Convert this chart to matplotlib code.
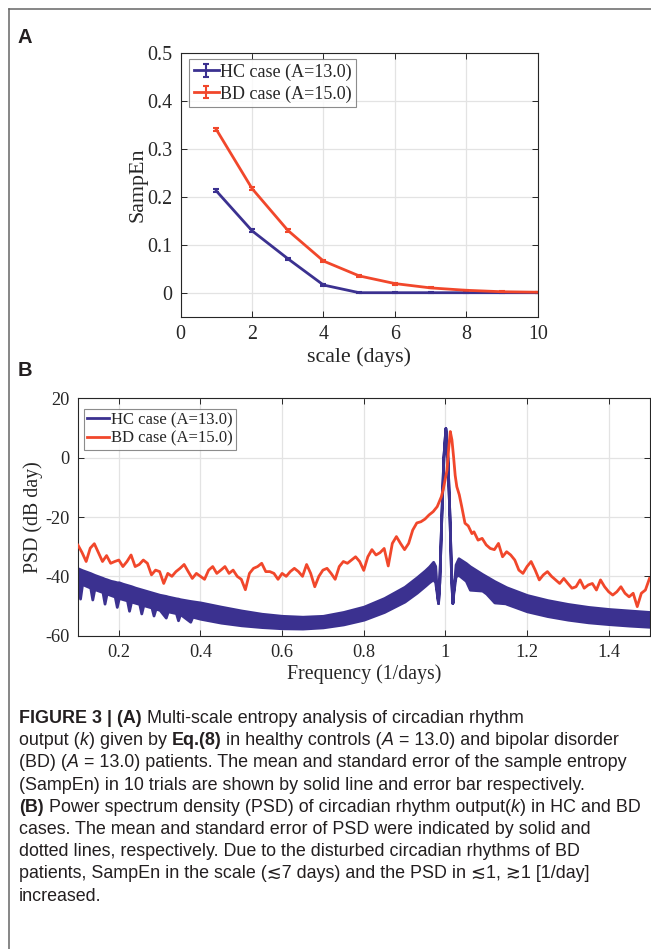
import matplotlib as mpl
mpl.use("Agg")
import matplotlib.pyplot as plt
from matplotlib.lines import Line2D
from matplotlib.legend_handler import HandlerErrorbar
import numpy as np

W, H = 651, 949
plt.rcParams["axes.unicode_minus"] = False
serif = ["Liberation Serif", "DejaVu Serif"]
sans = ["Liberation Sans", "DejaVu Sans"]
hc_color = "#3b3190"
bd_color = "#f1472b"
ax_color = "#262626"
grid_color = "#e3e3e3"

# ---------------- panel A data (SampEn vs scale) ----------------
scales = [1, 2, 3, 4, 5, 6, 7, 8, 9, 10]
hc_sampen = [0.212, 0.129, 0.071, 0.016, 0.0, 0.0, 0.0, 0.0, 0.0, 0.0]
hc_err = [0.003, 0.003, 0.002, 0.002, 0.001, 0.001, 0.001, 0.001, 0.001, 0.001]
bd_sampen = [0.340, 0.217, 0.130, 0.066, 0.035, 0.019, 0.010, 0.005, 0.002, 0.001]
bd_err = [0.004, 0.004, 0.003, 0.003, 0.002, 0.002, 0.001, 0.001, 0.001, 0.001]

# ---------------- panel B data (PSD) ----------------
bd_freq = [0.10, 0.11, 0.12, 0.13, 0.14, 0.15, 0.16, 0.17, 0.18, 0.19,
           0.20, 0.21, 0.22, 0.23, 0.24, 0.25, 0.26, 0.27, 0.28, 0.29,
           0.30, 0.31, 0.32, 0.33, 0.34, 0.35, 0.36, 0.37, 0.38, 0.39,
           0.40, 0.41, 0.42, 0.43, 0.44, 0.45, 0.46, 0.47, 0.48, 0.49,
           0.50, 0.51, 0.52, 0.53, 0.54, 0.55, 0.56, 0.57, 0.58, 0.59,
           0.60, 0.61, 0.62, 0.63, 0.64, 0.65, 0.66, 0.67, 0.68, 0.69,
           0.70, 0.71, 0.72, 0.73, 0.74, 0.75, 0.76, 0.77, 0.78, 0.79,
           0.80, 0.81, 0.82, 0.83, 0.84, 0.85, 0.86, 0.87, 0.88, 0.89,
           0.90, 0.91, 0.92, 0.93, 0.94, 0.95, 0.96, 0.97, 0.98, 0.99,
           0.995, 1.000, 1.004, 1.008, 1.012, 1.016, 1.020, 1.024, 1.028, 1.034,
           1.040, 1.048, 1.056, 1.065, 1.07, 1.08, 1.09, 1.10, 1.11, 1.12,
           1.13, 1.14, 1.15, 1.16, 1.17, 1.18, 1.19, 1.20, 1.21, 1.22,
           1.23, 1.24, 1.25, 1.26, 1.27, 1.28, 1.29, 1.30, 1.31, 1.32,
           1.33, 1.34, 1.35, 1.36, 1.37, 1.38, 1.39, 1.40, 1.41, 1.42,
           1.43, 1.44, 1.45, 1.46, 1.47, 1.48, 1.49, 1.50]
bd_psd = [-29.5, -32.0, -35.0, -30.5, -29.0, -32.0, -35.0, -33.0, -35.6, -35.0,
          -34.5, -36.7, -35.0, -32.8, -36.7, -36.0, -34.5, -35.6, -39.5, -37.9,
          -38.4, -42.4, -39.0, -40.0, -38.4, -37.3, -36.0, -38.4, -40.7, -39.0,
          -40.0, -41.0, -37.9, -36.7, -39.0, -37.9, -36.7, -39.0, -37.9, -40.0,
          -41.0, -44.5, -39.0, -37.3, -36.7, -35.6, -38.4, -38.4, -39.0, -41.0,
          -39.0, -40.0, -38.4, -37.3, -38.4, -40.0, -36.0, -39.0, -43.5, -40.0,
          -37.9, -37.3, -39.0, -41.0, -36.7, -35.0, -35.6, -34.5, -33.4, -35.0,
          -38.0, -33.4, -31.0, -32.8, -32.0, -30.6, -36.5, -28.9, -26.6, -28.9,
          -31.0, -28.9, -24.4, -22.0, -21.6, -20.7, -19.3, -18.2, -16.5, -13.2,
          -10.5, -7.0, -4.2, 3.0, 8.8, 6.0, 0.3, -6.0, -9.8, -12.5,
          -16.5, -22.1, -23.0, -25.6, -25.0, -27.8, -27.2, -29.4, -30.6, -31.0,
          -28.9, -33.4, -31.7, -32.8, -34.5, -37.9, -39.0, -36.7, -35.0, -37.9,
          -41.2, -39.5, -38.4, -40.0, -41.2, -42.4, -40.7, -42.4, -44.0, -43.5,
          -41.2, -44.0, -42.9, -42.4, -44.6, -41.2, -43.5, -45.2, -46.3, -45.2,
          -43.5, -45.7, -46.9, -45.7, -50.2, -45.7, -44.6, -40.7]

# HC spectrum is a dense oscillating band: upper / lower envelope
hc_freq = [0.100, 0.105, 0.110, 0.120, 0.130, 0.135, 0.140, 0.150, 0.160, 0.165,
           0.170, 0.180, 0.190, 0.195, 0.200, 0.210, 0.220, 0.225, 0.230, 0.240,
           0.250, 0.255, 0.260, 0.270, 0.280, 0.285, 0.290, 0.300, 0.315, 0.320,
           0.340, 0.345, 0.350, 0.375, 0.380, 0.400, 0.450, 0.500, 0.550, 0.600,
           0.650, 0.700, 0.750, 0.800, 0.850, 0.900, 0.930, 0.950, 0.960, 0.970,
           0.975, 0.979, 0.982, 0.985, 0.990, 0.995, 1.000, 1.005, 1.010, 1.014,
           1.017, 1.020, 1.025, 1.032, 1.050, 1.060, 1.090, 1.100, 1.120, 1.147,
           1.150, 1.200, 1.250, 1.300, 1.350, 1.400, 1.450, 1.500]
hc_upper = [-37.3, -37.6, -37.9, -38.4, -38.9, -39.2, -39.5, -40.0, -40.5, -40.8,
            -41.0, -41.5, -41.8, -42.0, -42.0, -42.5, -42.9, -43.1, -43.3, -43.8,
            -44.2, -44.4, -44.6, -45.0, -45.4, -45.6, -45.8, -46.2, -46.6, -46.8,
            -47.4, -47.5, -47.7, -48.3, -48.4, -48.8, -50.2, -51.5, -52.6, -53.3,
            -53.6, -53.3, -52.0, -50.2, -47.3, -43.5, -40.3, -38.0, -36.7, -35.1,
            -36.5, -45.0, -49.0, -42.0, -20.0, 0.0, 10.0, 0.0, -20.0, -40.0,
            -49.0, -44.0, -36.0, -33.9, -35.5, -36.6, -39.2, -40.0, -41.6, -43.5,
            -43.7, -46.3, -48.0, -49.3, -50.3, -51.0, -51.5, -52.0]
hc_lower = [-42.3, -47.5, -42.6, -43.2, -43.8, -47.8, -44.3, -44.8, -45.3, -49.2,
            -45.8, -46.3, -46.8, -50.3, -47.3, -47.7, -48.1, -51.6, -48.5, -48.9,
            -49.3, -52.5, -49.7, -50.1, -50.5, -53.2, -50.9, -51.3, -53.9, -51.8,
            -52.4, -54.8, -52.7, -55.3, -53.6, -54.3, -55.6, -56.5, -57.1, -57.5,
            -57.6, -57.2, -56.2, -54.6, -52.0, -48.5, -45.5, -43.2, -42.0, -41.0,
            -42.0, -46.0, -49.0, -42.0, -20.0, 0.0, 10.0, 0.0, -20.0, -40.0,
            -49.0, -45.0, -40.0, -39.5, -41.5, -44.5, -44.8, -45.8, -48.8, -49.1,
            -49.3, -51.8, -53.4, -54.6, -55.5, -56.1, -56.6, -57.0]

caption_lines = [
    [("FIGURE 3 | (A)", "b"), (" Multi-scale entropy analysis of circadian rhythm", "")],
    [("output (", ""), ("k", "i"), (") given by ", ""), ("Eq.(8)", "b"),
     (" in healthy controls (", ""), ("A", "i"), (" = 13.0) and bipolar disorder", "")],
    [("(BD) (", ""), ("A", "i"), (" = 13.0) patients. The mean and standard error of the sample entropy", "")],
    [("(SampEn) in 10 trials are shown by solid line and error bar respectively.", "")],
    [("(B)", "b"), (" Power spectrum density (PSD) of circadian rhythm output(", ""), ("k", "i"),
     (") in HC and BD", "")],
    [("cases. The mean and standard error of PSD were indicated by solid and", "")],
    [("dotted lines, respectively. Due to the disturbed circadian rhythms of BD", "")],
    [("patients, SampEn in the scale (\u22727 days) and the PSD in \u22721, \u22731 [1/day]", "")],
    [("increased.", "")],
]

fig = plt.figure(figsize=(W / 100, H / 100), dpi=100)

def style_axes(ax, fs):
    for s in ax.spines.values():
        s.set_color(ax_color)
        s.set_linewidth(0.8)
    ax.tick_params(direction="in", top=True, right=True, length=4, width=0.7,
                   color=ax_color, labelcolor=ax_color, labelsize=fs, pad=6)
    ax.grid(True, color=grid_color, linewidth=0.9)
    ax.set_axisbelow(True)
    for lab in ax.get_xticklabels() + ax.get_yticklabels():
        lab.set_family(serif)

# ---------------- panel A ----------------
axA = fig.add_axes([180.6 / W, 1 - 316.7 / H, 357.2 / W, 264.0 / H])
axA.errorbar(scales, hc_sampen, yerr=hc_err, color=hc_color, lw=2.0, capsize=2,
             elinewidth=1.5, capthick=1.5, label="HC case (A=13.0)")
axA.errorbar(scales, bd_sampen, yerr=bd_err, color=bd_color, lw=2.0, capsize=2,
             elinewidth=1.5, capthick=1.5, label="BD case (A=15.0)")
axA.set_xlim(0, 10)
axA.set_ylim(-0.05, 0.5)
a_xt = [0, 2, 4, 6, 8, 10]
a_yt = [0, 0.1, 0.2, 0.3, 0.4, 0.5]
axA.set_xticks(a_xt)
axA.set_xticklabels([f"{v:g}" for v in a_xt])
axA.set_yticks(a_yt)
axA.set_yticklabels([f"{v:g}" for v in a_yt])
style_axes(axA, 14.4)
axA.set_xlabel("scale (days)", family=serif, fontsize=15.8, color=ax_color, labelpad=2)
axA.set_ylabel("SampEn", family=serif, fontsize=15.8, color=ax_color, labelpad=0)
legA = axA.legend(loc="upper left", bbox_to_anchor=(0.0235, 0.976), borderaxespad=0,
                  prop={"family": serif, "size": 13}, frameon=True, fancybox=False,
                  edgecolor="#6f6f6f", handlelength=1.4, handletextpad=0.05,
                  borderpad=0.25, labelspacing=0.25,
                  handler_map={mpl.container.ErrorbarContainer: HandlerErrorbar(xerr_size=0.5, yerr_size=0.34)})
legA.get_frame().set_linewidth(0.8)
for t in legA.get_texts():
    t.set_color(ax_color)

# ---------------- panel B ----------------
axB = fig.add_axes([78.0 / W, 1 - 635.7 / H, 571.5 / W, 237.4 / H])
axB.fill_between(hc_freq, hc_lower, hc_upper, color=hc_color, lw=2.0,
                 edgecolor=hc_color, zorder=2)
axB.plot([], [], color=hc_color, lw=2.0, label="HC case (A=13.0)")
axB.plot(bd_freq, bd_psd, color=bd_color, lw=2.0, zorder=3, label="BD case (A=15.0)")
axB.set_xlim(0.1, 1.5)
axB.set_ylim(-60, 20)
b_xt = [0.2, 0.4, 0.6, 0.8, 1.0, 1.2, 1.4]
b_yt = [-60, -40, -20, 0, 20]
axB.set_xticks(b_xt)
axB.set_xticklabels([f"{v:g}" for v in b_xt])
axB.set_yticks(b_yt)
axB.set_yticklabels([f"{v:g}" for v in b_yt])
style_axes(axB, 13.2)
axB.set_xlabel("Frequency (1/days)", family=serif, fontsize=14.3, color=ax_color, labelpad=2)
axB.set_ylabel("PSD (dB day)", family=serif, fontsize=14.3, color=ax_color, labelpad=2)
legB = axB.legend(loc="upper left", bbox_to_anchor=(0.0105, 0.955), borderaxespad=0,
                  prop={"family": serif, "size": 12}, frameon=True, fancybox=False,
                  edgecolor="#6f6f6f", handlelength=1.3, handletextpad=0.1,
                  borderpad=0.2, labelspacing=0.15)
legB.get_frame().set_linewidth(0.8)
for t in legB.get_texts():
    t.set_color(ax_color)

# ---------------- page frame and panel letters ----------------
fig.add_artist(Line2D([9 / W, 1], [1 - 9 / H, 1 - 9 / H], color="#666666", lw=1.1))
fig.add_artist(Line2D([9 / W, 9 / W], [0, 1 - 9 / H], color="#666666", lw=1.1))
fig.text(18 / W, 1 - 43 / H, "A", family=sans, weight="bold", fontsize=14.5, color="#231f20")
fig.text(18 / W, 1 - 376 / H, "B", family=sans, weight="bold", fontsize=14.5, color="#231f20")

# ---------------- caption ----------------
renderer = fig.canvas.get_renderer()
cap_fs = 12.9
cap_col = "#231f20"

def text_w(s, **kw):
    t = fig.text(0, 0, s, fontsize=cap_fs, family=sans, **kw)
    w = t.get_window_extent(renderer).width
    t.remove()
    return w

space_w = text_w("x x") - text_w("xx")
x0 = 19
y0 = 723
dy = 22.2
for i, pieces in enumerate(caption_lines):
    x = x0
    y = y0 + i * dy
    for txt, st in pieces:
        kw = {}
        if st == "b":
            kw["weight"] = "bold"
        elif st == "i":
            kw["style"] = "italic"
        lead = len(txt) - len(txt.lstrip(" "))
        trail = len(txt) - len(txt.rstrip(" "))
        core = txt.strip(" ")
        x += lead * space_w
        t = fig.text(x / W, 1 - y / H, core, fontsize=cap_fs, family=sans,
                     color=cap_col, ha="left", va="baseline", **kw)
        x += t.get_window_extent(renderer).width + trail * space_w

fig.savefig("out.png", dpi=100)
